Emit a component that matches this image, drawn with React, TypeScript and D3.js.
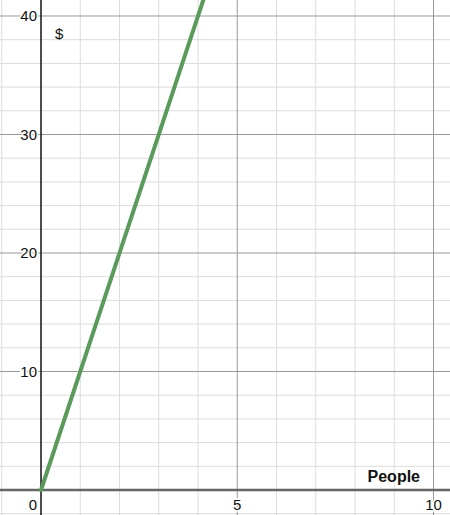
import * as d3 from "d3";
import { useEffect, useRef } from "react";

// line y = 10x  ($ vs People)
const linePoints: [number, number][] = [
  [0, 0],
  [5, 50],
];
const xTicks = [0, 5, 10];
const yTicks = [10, 20, 30, 40];
const xLabel = "People";
const yLabel = "$";

const svgWidth = 450,
  svgHeight = 515;

export default function App() {
  const ref = useRef<SVGSVGElement>(null);

  useEffect(() => {
    const svg = d3.select(ref.current);
    svg.selectAll("*").remove();

    const x = d3.scaleLinear().domain([-1.045, 10.42]).range([0, svgWidth]);
    const y = d3.scaleLinear().domain([-2.11, 41.35]).range([svgHeight, 0]);

    svg.append("rect").attr("width", svgWidth).attr("height", svgHeight).attr("fill", "#fff");

    // minor grid
    const grid = svg.append("g");
    grid
      .selectAll("line.vx")
      .data(d3.range(-1, 11).filter((v) => v % 5 !== 0))
      .join("line")
      .attr("x1", (d) => x(d))
      .attr("x2", (d) => x(d))
      .attr("y1", 0)
      .attr("y2", svgHeight)
      .attr("stroke", "#dcdcdc")
      .attr("stroke-width", 1);
    grid
      .selectAll("line.hy")
      .data(d3.range(-2, 42, 2).filter((v) => v % 10 !== 0))
      .join("line")
      .attr("x1", 0)
      .attr("x2", svgWidth)
      .attr("y1", (d) => y(d))
      .attr("y2", (d) => y(d))
      .attr("stroke", "#dcdcdc")
      .attr("stroke-width", 1);

    // major grid
    const major = svg.append("g");
    major
      .selectAll("line.mx")
      .data(xTicks.filter((v) => v !== 0))
      .join("line")
      .attr("x1", (d) => x(d))
      .attr("x2", (d) => x(d))
      .attr("y1", 0)
      .attr("y2", svgHeight)
      .attr("stroke", "#999")
      .attr("stroke-width", 1);
    major
      .selectAll("line.my")
      .data(yTicks)
      .join("line")
      .attr("x1", 0)
      .attr("x2", svgWidth)
      .attr("y1", (d) => y(d))
      .attr("y2", (d) => y(d))
      .attr("stroke", "#999")
      .attr("stroke-width", 1);

    // axes
    svg
      .append("line")
      .attr("x1", 0)
      .attr("x2", svgWidth)
      .attr("y1", y(0))
      .attr("y2", y(0))
      .attr("stroke", "#666")
      .attr("stroke-width", 2.5);
    svg
      .append("line")
      .attr("x1", x(0))
      .attr("x2", x(0))
      .attr("y1", 0)
      .attr("y2", svgHeight)
      .attr("stroke", "#111")
      .attr("stroke-width", 1.5);

    // tick labels
    const font = "Arial, 'Liberation Sans', sans-serif";
    svg
      .append("g")
      .selectAll("text")
      .data(yTicks)
      .join("text")
      .attr("x", x(0) - 4)
      .attr("y", (d) => y(d))
      .attr("dy", "0.35em")
      .attr("text-anchor", "end")
      .attr("font-family", font)
      .attr("font-size", 15)
      .attr("fill", "#111")
      .style("paint-order", "stroke")
      .attr("stroke", "#fff")
      .attr("stroke-width", 3)
      .text((d) => d);
    svg
      .append("g")
      .selectAll("text")
      .data(xTicks)
      .join("text")
      .attr("x", (d) => (d === 0 ? x(0) - 4 : x(d)))
      .attr("y", y(0) + 20)
      .attr("text-anchor", (d) => (d === 0 ? "end" : "middle"))
      .attr("font-family", font)
      .attr("font-size", 15)
      .attr("fill", "#111")
      .style("paint-order", "stroke")
      .attr("stroke", "#fff")
      .attr("stroke-width", 3)
      .text((d) => d);

    // axis labels
    svg
      .append("text")
      .attr("x", x(0) + 14)
      .attr("y", y(38.1))
      .attr("font-family", font)
      .attr("font-size", 15)
      .attr("fill", "#111")
      .text(yLabel);
    svg
      .append("text")
      .attr("x", 420)
      .attr("y", y(0) - 8)
      .attr("text-anchor", "end")
      .attr("font-family", font)
      .attr("font-size", 16)
      .attr("font-weight", "bold")
      .attr("fill", "#111")
      .text(xLabel);

    // the line
    svg
      .append("path")
      .datum(linePoints)
      .attr("d", d3.line<[number, number]>().x((d) => x(d[0])).y((d) => y(d[1])))
      .attr("fill", "none")
      .attr("stroke", "#5a9a5a")
      .attr("stroke-width", 4)
      .attr("stroke-linecap", "round");
  }, []);

  return (
    <svg
      ref={ref}
      width={svgWidth}
      height={svgHeight}
      style={{ position: "fixed", top: 0, left: 0, display: "block" }}
    />
  );
}
